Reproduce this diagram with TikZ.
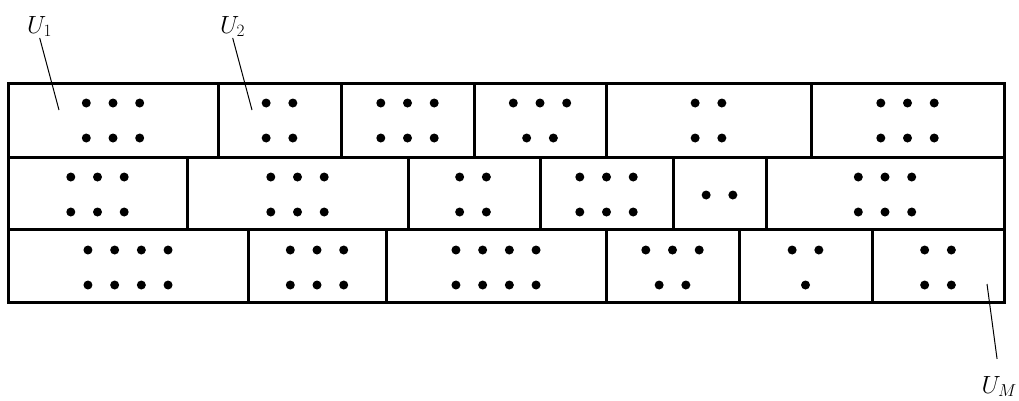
\documentclass[tikz,border=0pt]{standalone}
\usepackage{amsmath}

\begin{document}
\begin{tikzpicture}[x=1pt, y=-1pt,
    cell/.style={line width=3pt},
    pointer/.style={line width=1pt},
    lab/.style={inner sep=1pt, font=\fontsize{27}{32}\selectfont}]
    \useasboundingbox (0,0) rectangle (1019,400);

    % --- 1. the three rows of cells ---
    \draw[cell] (8,83) rectangle (1004,302); % outer frame
    \draw[cell] (8,157) -- (1004,157);
    \draw[cell] (8,229) -- (1004,229);
    % row 1
    \foreach \x in {218,341,474,606,811}
        \draw[cell] (\x,83) -- (\x,157);
    % row 2
    \foreach \x in {187,408,540,673,766}
        \draw[cell] (\x,157) -- (\x,229);
    % row 3
    \foreach \x in {248,386,606,739,872}
        \draw[cell] (\x,229) -- (\x,302);

    % --- 2. the points in every cell ---
    % centre x / y of the row / number of points
    \foreach \cx/\cy/\n in {
        113/103/3, 113/138/3, 279.5/103/2, 279.5/138/2,
        407.5/103/3, 407.5/138/3, 540/103/3, 540/138/2,
        708.5/103/2, 708.5/138/2, 907.5/103/3, 907.5/138/3,
        97.5/177/3, 97.5/212/3, 297.5/177/3, 297.5/212/3,
        473/177/2, 473/212/2, 606.5/177/3, 606.5/212/3,
        719.5/195/2, 885/177/3, 885/212/3,
        128/250/4, 128/285/4, 317/250/3, 317/285/3,
        496/250/4, 496/285/4, 672.5/250/3, 672.5/285/2,
        805.5/250/2, 805.5/285/1, 938/250/2, 938/285/2}
    {
        \foreach \k in {1,...,\n}
            \fill ({\cx+(\k-(\n+1)/2)*26.7}, \cy) circle (4.5pt);
    }

    % --- 3. labels of the sets ---
    \node[lab, anchor=base west] (U1) at (26,33) {$U_1$};
    \coordinate (p1) at (59,110);
    \draw[pointer] (U1.south) -- (p1);

    \node[lab, anchor=base west] (U2) at (219,33) {$U_2$};
    \coordinate (p2) at (252,110);
    \draw[pointer] (U2.south) -- (p2);

    \node[lab, anchor=base east] (UM) at (1018,393) {$U_M$};
    \coordinate (pM) at (987,284);
    \draw[pointer, shorten >=16pt] (pM) -- (UM.north);

\end{tikzpicture}
\end{document}
